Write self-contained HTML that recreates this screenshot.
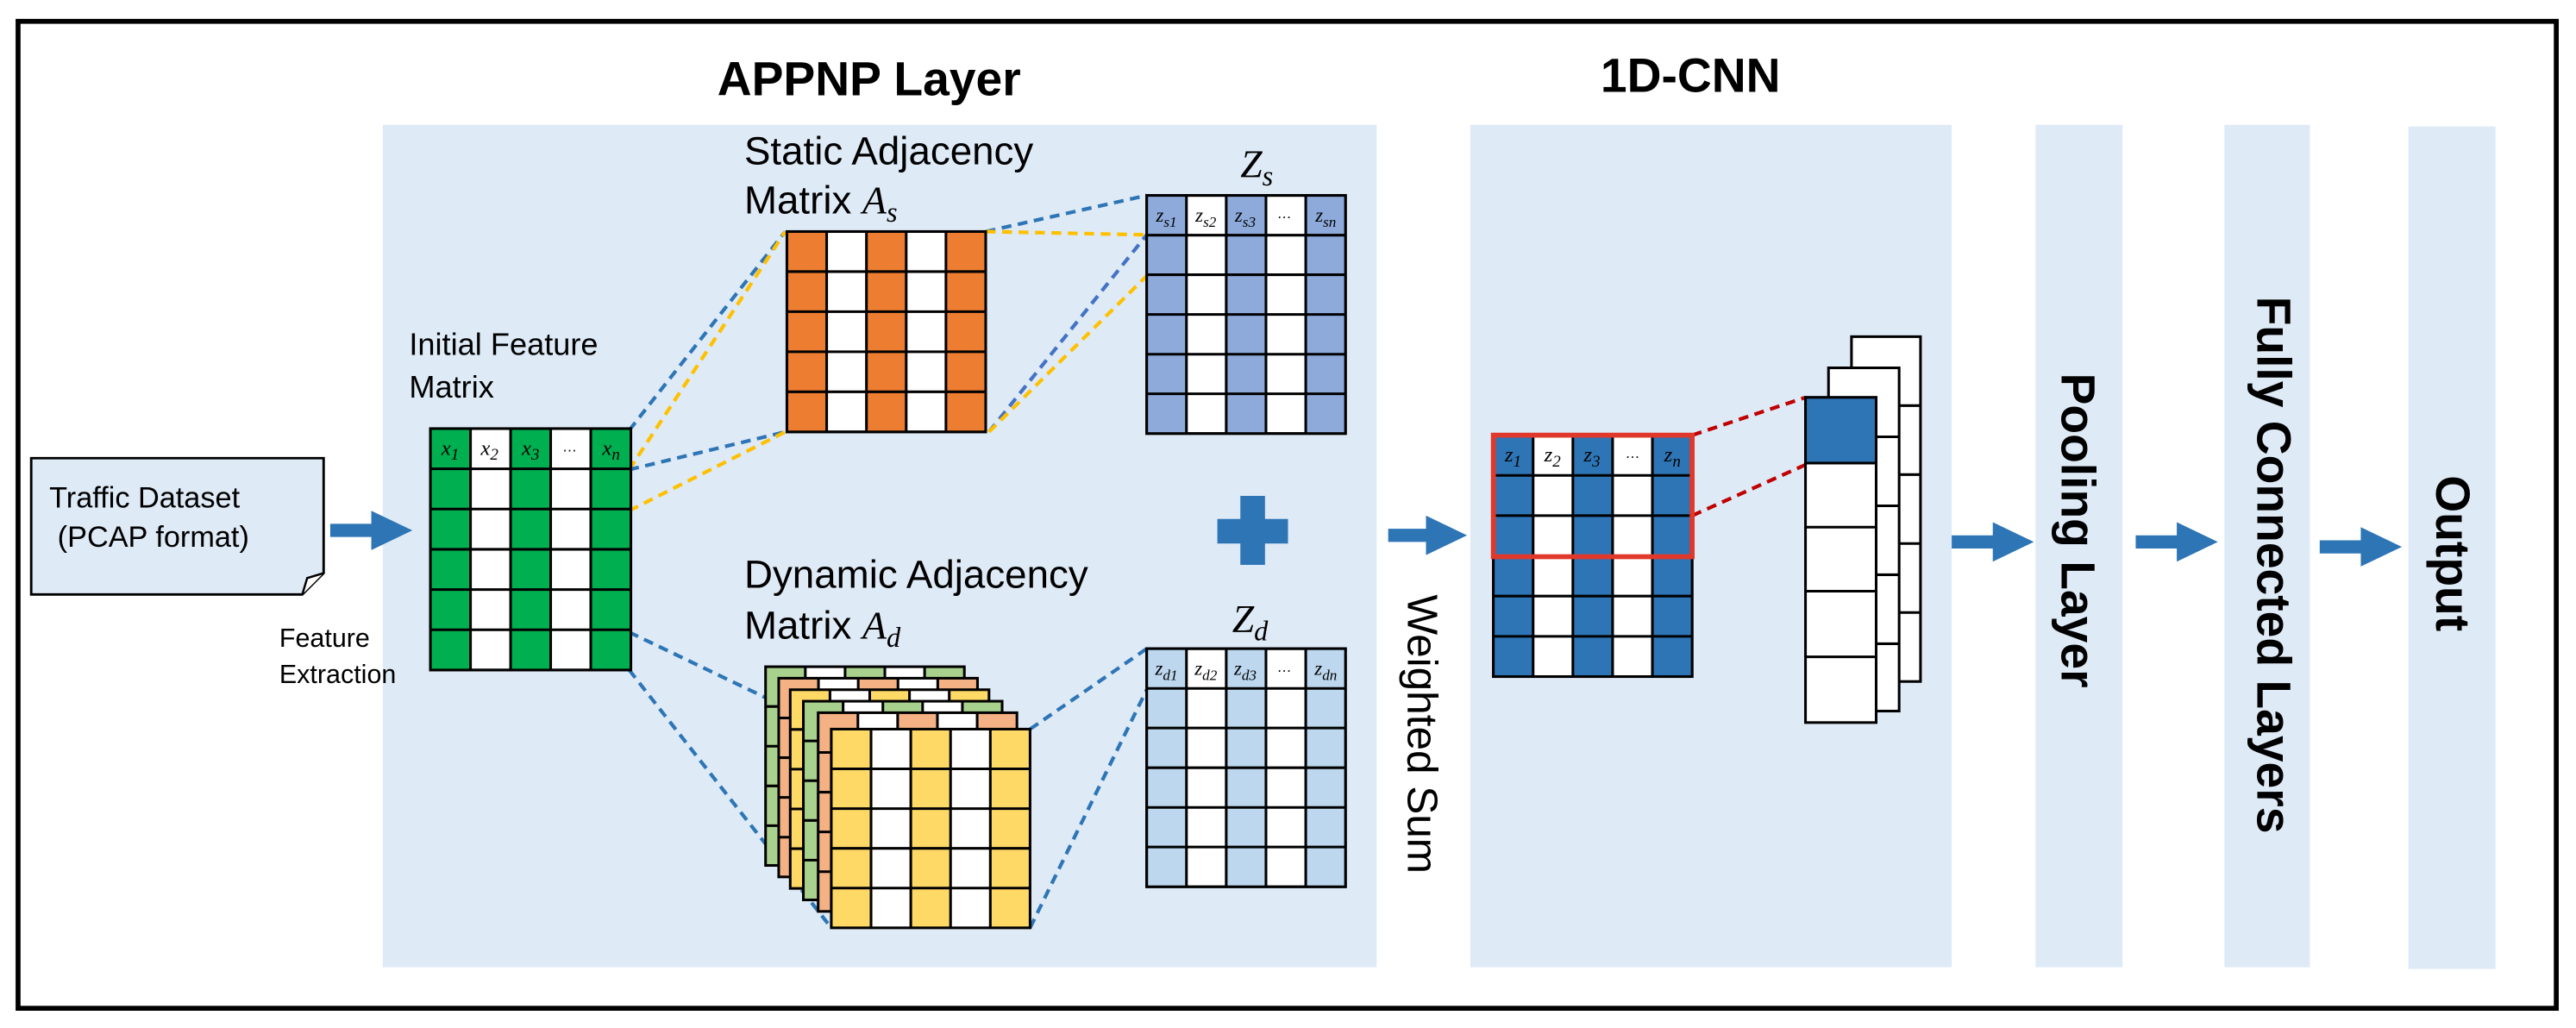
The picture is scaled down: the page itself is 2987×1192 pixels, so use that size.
<!DOCTYPE html>
<html><head><meta charset="utf-8"><style>
html,body{margin:0;padding:0;background:#fff;}
svg{display:block;}
text{font-family:"Liberation Sans",sans-serif;}
.m{font-family:"Liberation Serif",serif;font-style:italic;}
</style></head><body>
<svg width="2987" height="1192" viewBox="0 0 1568 626" preserveAspectRatio="none" xmlns="http://www.w3.org/2000/svg">
<rect x="0" y="0" width="1568" height="626" fill="#fff"/>
<rect x="11" y="13" width="1545" height="601" fill="#fff" stroke="#000" stroke-width="3"/>

<rect x="233" y="76" width="605" height="513" fill="#deeaf6"/>
<rect x="895" y="76" width="293" height="513" fill="#deeaf6"/>
<rect x="1239" y="76" width="53" height="513" fill="#deeaf6"/>
<rect x="1354" y="76" width="52" height="513" fill="#deeaf6"/>
<rect x="1466" y="77" width="53" height="513" fill="#deeaf6"/>

<text x="529" y="58" font-size="29" font-weight="bold" text-anchor="middle">APPNP Layer</text>
<text x="1029" y="56" font-size="29" font-weight="bold" text-anchor="middle">1D-CNN</text>

<path d="M19 279 H197 V349 L184 362 H19 Z" fill="#deeaf6" stroke="#000" stroke-width="1.5"/>
<path d="M184 362 L187 352 L197 349" fill="#fff" stroke="#000" stroke-width="1.3"/>
<text x="30" y="309" font-size="18">Traffic Dataset</text>
<text x="35" y="333" font-size="18">(PCAP format)</text>
<text x="170" y="394" font-size="16">Feature</text>
<text x="170" y="416" font-size="16">Extraction</text>

<g fill="#2e75b6">
<path d="M201 319 H226 V311 L251 323 L226 335 V327 H201 Z"/>
<path d="M845 322 H868 V314 L893 326 L868 338 V330 H845 Z"/>
<path d="M1188 326 H1213 V318 L1238 330 L1213 342 V334 H1188 Z"/>
<path d="M1300 326 H1325 V318 L1350 330 L1325 342 V334 H1300 Z"/>
<path d="M1412 329 H1437 V321 L1462 333 L1437 345 V337 H1412 Z"/>
<path d="M755 302 H770 V316 H784 V331 H770 V344 H755 V331 H741 V316 H755 Z"/>
</g>

<text x="249" y="216" font-size="19">Initial Feature</text>
<text x="249" y="242" font-size="19">Matrix</text>
<text x="453" y="100" font-size="24">Static Adjacency</text>
<text x="453" y="130" font-size="24">Matrix <tspan class="m">A</tspan><tspan class="m" font-size="17" dy="5">s</tspan></text>
<text x="453" y="358" font-size="24">Dynamic Adjacency</text>
<text x="453" y="389" font-size="24">Matrix <tspan class="m">A</tspan><tspan class="m" font-size="17" dy="5">d</tspan></text>
<text x="755" y="108" font-size="24" class="m">Z<tspan font-size="17" dy="5">s</tspan></text>
<text x="750" y="385" font-size="24" class="m">Z<tspan font-size="17" dy="5">d</tspan></text>

<g fill="none" stroke-width="2.2" stroke-dasharray="6,4">
<line x1="383" y1="262" x2="478" y2="141" stroke="#2e75b6"/>
<line x1="383" y1="286" x2="478" y2="141" stroke="#ffc000"/>
<line x1="383" y1="286" x2="478" y2="263" stroke="#2e75b6"/>
<line x1="383" y1="311" x2="478" y2="263" stroke="#ffc000"/>
<line x1="600" y1="141" x2="698" y2="119" stroke="#2e75b6"/>
<line x1="600" y1="141" x2="698" y2="143" stroke="#ffc000"/>
<line x1="602" y1="263" x2="698" y2="143" stroke="#4472c4"/>
<line x1="602" y1="263" x2="698" y2="168" stroke="#ffc000"/>
<line x1="383" y1="385" x2="506" y2="444" stroke="#2e75b6"/>
<line x1="383" y1="408" x2="506" y2="565" stroke="#2e75b6"/>
<line x1="627" y1="444" x2="698" y2="395" stroke="#2e75b6"/>
<line x1="627" y1="565" x2="698" y2="420" stroke="#2e75b6"/>
<line x1="1030" y1="265" x2="1099" y2="242" stroke="#c00000"/>
<line x1="1030" y1="314" x2="1099" y2="283" stroke="#c00000"/>
</g>

<g stroke="#000" stroke-width="1.6">
<rect x="262" y="261" width="122" height="147" fill="#fff"/>
<g stroke="none" fill="#00b050"><rect x="262" y="261" width="24.4" height="147"/><rect x="310.8" y="261" width="24.4" height="147"/><rect x="359.6" y="261" width="24.4" height="147"/></g>
<path d="M286.4 261V408M310.8 261V408M335.2 261V408M359.6 261V408M262 285.5H384M262 310H384M262 334.5H384M262 359H384M262 383.5H384" fill="none"/>
<rect x="262" y="261" width="122" height="147" fill="none"/>
</g>
<g font-size="13" class="m" text-anchor="middle">
<text x="274" y="277" class="m">x<tspan font-size="10" dy="3">1</tspan></text>
<text x="298" y="277" class="m">x<tspan font-size="10" dy="3">2</tspan></text>
<text x="323" y="277" class="m">x<tspan font-size="10" dy="3">3</tspan></text>
<text x="347" y="275" font-size="9">…</text>
<text x="372" y="277" class="m">x<tspan font-size="10" dy="3">n</tspan></text>
</g>

<g stroke="#000" stroke-width="1.6">
<rect x="479" y="141" width="121" height="122" fill="#fff"/>
<g stroke="none" fill="#ed7d31"><rect x="479" y="141" width="24.2" height="122"/><rect x="527.4" y="141" width="24.2" height="122"/><rect x="575.8" y="141" width="24.2" height="122"/></g>
<path d="M503.2 141V263M527.4 141V263M551.6 141V263M575.8 141V263M479 165.4H600M479 189.8H600M479 214.2H600M479 238.6H600" fill="none"/>
<rect x="479" y="141" width="121" height="122" fill="none"/>
</g>

<g stroke="#000" stroke-width="1.6">
<rect x="698" y="119" width="121" height="145" fill="#fff"/>
<g stroke="none" fill="#8eaadb"><rect x="698" y="119" width="24.2" height="145"/><rect x="746.4" y="119" width="24.2" height="145"/><rect x="794.8" y="119" width="24.2" height="145"/></g>
<path d="M722.2 119V264M746.4 119V264M770.6 119V264M794.8 119V264M698 143.2H819M698 167.3H819M698 191.5H819M698 215.7H819M698 239.8H819" fill="none"/>
<rect x="698" y="119" width="121" height="145" fill="none"/>
</g>
<g font-size="12" class="m" text-anchor="middle">
<text x="710" y="135" class="m">z<tspan font-size="9" dy="3">s1</tspan></text>
<text x="734" y="135" class="m">z<tspan font-size="9" dy="3">s2</tspan></text>
<text x="758" y="135" class="m">z<tspan font-size="9" dy="3">s3</tspan></text>
<text x="782" y="133" font-size="9">…</text>
<text x="807" y="135" class="m">z<tspan font-size="9" dy="3">sn</tspan></text>
</g>

<g stroke="#000" stroke-width="1.6">
<rect x="698" y="395" width="121" height="145" fill="#fff"/>
<g stroke="none" fill="#bdd7ee"><rect x="698" y="395" width="24.2" height="145"/><rect x="746.4" y="395" width="24.2" height="145"/><rect x="794.8" y="395" width="24.2" height="145"/></g>
<path d="M722.2 395V540M746.4 395V540M770.6 395V540M794.8 395V540M698 419.2H819M698 443.3H819M698 467.5H819M698 491.7H819M698 515.8H819" fill="none"/>
<rect x="698" y="395" width="121" height="145" fill="none"/>
</g>
<g font-size="12" class="m" text-anchor="middle">
<text x="710" y="411" class="m">z<tspan font-size="9" dy="3">d1</tspan></text>
<text x="734" y="411" class="m">z<tspan font-size="9" dy="3">d2</tspan></text>
<text x="758" y="411" class="m">z<tspan font-size="9" dy="3">d3</tspan></text>
<text x="782" y="409" font-size="9">…</text>
<text x="807" y="411" class="m">z<tspan font-size="9" dy="3">dn</tspan></text>
</g>

<defs>
<g id="grid">
<rect x="0" y="0" width="121" height="121" fill="#fff"/>
<rect x="0" y="0" width="24.2" height="121" fill="currentColor"/>
<rect x="48.4" y="0" width="24.2" height="121" fill="currentColor"/>
<rect x="96.8" y="0" width="24.2" height="121" fill="currentColor"/>
<path d="M24.2 0V121M48.4 0V121M72.6 0V121M96.8 0V121M0 24.2H121M0 48.4H121M0 72.6H121M0 96.8H121" fill="none" stroke="#000" stroke-width="1.6"/>
<rect x="0" y="0" width="121" height="121" fill="none" stroke="#000" stroke-width="1.6"/>
</g>
</defs>
<use href="#grid" x="466" y="406" style="color:#a9d18e"/>
<use href="#grid" x="474" y="413" style="color:#f4b183"/>
<use href="#grid" x="481" y="420" style="color:#ffd966"/>
<use href="#grid" x="489" y="427" style="color:#a9d18e"/>
<use href="#grid" x="498" y="434" style="color:#f4b183"/>
<use href="#grid" x="506" y="444" style="color:#ffd966"/>

<g stroke="#000" stroke-width="1.6">
<rect x="909" y="265" width="121" height="147" fill="#fff"/>
<g stroke="none" fill="#2e75b6"><rect x="909" y="265" width="24.2" height="147"/><rect x="957.4" y="265" width="24.2" height="147"/><rect x="1005.8" y="265" width="24.2" height="147"/></g>
<path d="M933.2 265V412M957.4 265V412M981.6 265V412M1005.8 265V412M909 289.5H1030M909 314H1030M909 338.5H1030M909 363H1030M909 387.5H1030" fill="none"/>
<rect x="909" y="265" width="121" height="147" fill="none"/>
</g>
<rect x="909" y="265" width="121" height="74" fill="none" stroke="#e0392b" stroke-width="3"/>
<g font-size="13" class="m" text-anchor="middle">
<text x="921" y="281" class="m">z<tspan font-size="10" dy="3">1</tspan></text>
<text x="945" y="281" class="m">z<tspan font-size="10" dy="3">2</tspan></text>
<text x="969" y="281" class="m">z<tspan font-size="10" dy="3">3</tspan></text>
<text x="994" y="279" font-size="9">…</text>
<text x="1018" y="281" class="m">z<tspan font-size="10" dy="3">n</tspan></text>
</g>

<g stroke="#000" stroke-width="1.6" fill="#fff">
<rect x="1127" y="205" width="42" height="210"/>
<path d="M1142 247H1169M1142 289H1169M1142 331H1169M1142 373H1169" fill="none"/>
<rect x="1113" y="224" width="43" height="209"/>
<path d="M1142 266H1156M1142 308H1156M1142 350H1156M1142 392H1156" fill="none"/>
<rect x="1099" y="242" width="43" height="198"/>
<rect x="1099" y="242" width="43" height="40" fill="#2e75b6"/>
<path d="M1099 282H1142M1099 321H1142M1099 360H1142M1099 400H1142" fill="none"/>
</g>

<text transform="translate(857,447) rotate(90)" font-size="26" text-anchor="middle">Weighted Sum</text>
<text transform="translate(1255,323) rotate(90)" font-size="29" font-weight="bold" text-anchor="middle">Pooling Layer</text>
<text transform="translate(1374,344) rotate(90)" font-size="29" font-weight="bold" text-anchor="middle">Fully Connected Layers</text>
<text transform="translate(1483,337) rotate(90)" font-size="29" font-weight="bold" text-anchor="middle">Output</text>
</svg>
</body></html>
